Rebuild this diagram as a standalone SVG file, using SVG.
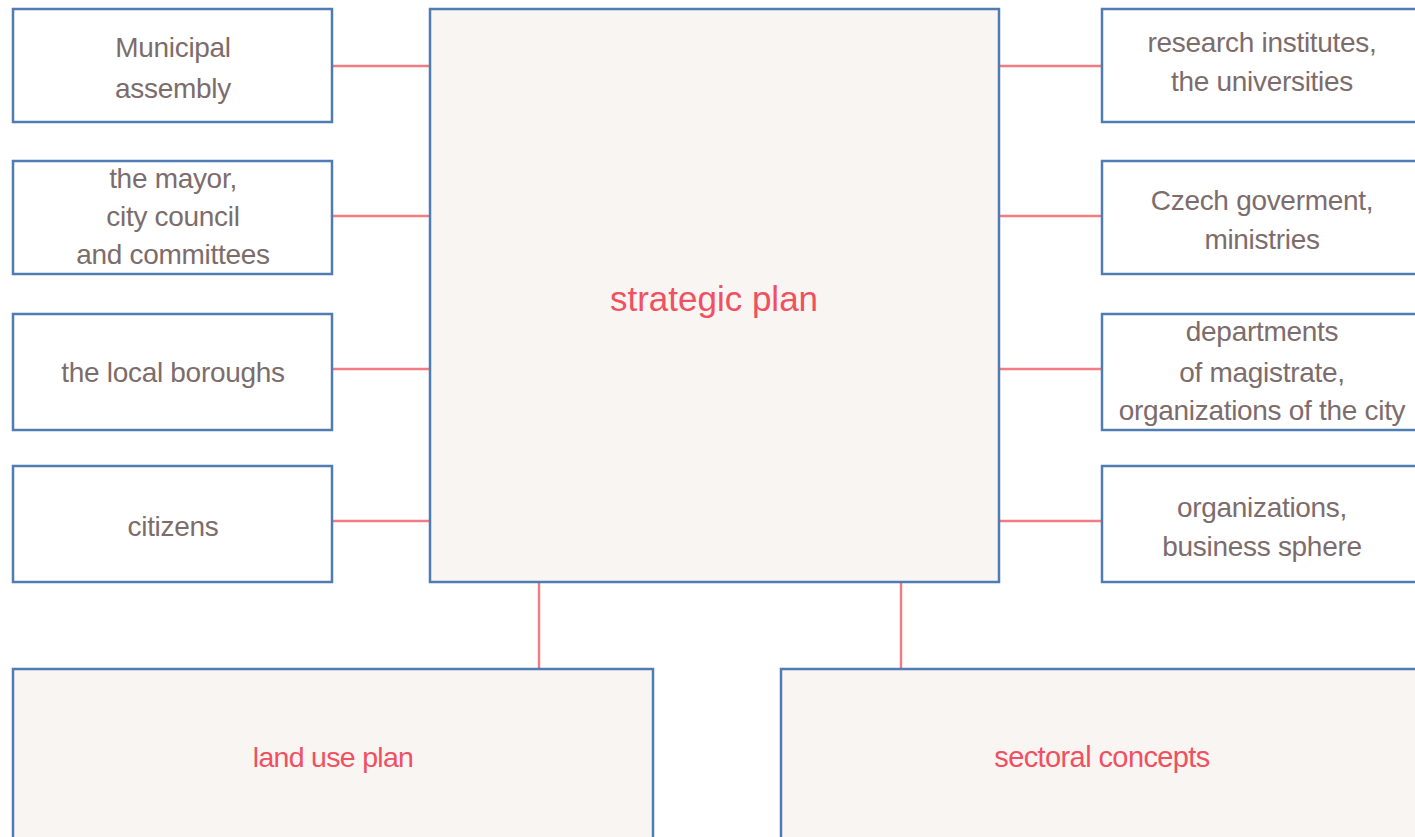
<svg xmlns="http://www.w3.org/2000/svg" width="1415" height="837" viewBox="0 0 1415 837">
<style>
.box{fill:#ffffff;stroke:#4f7cb3;stroke-width:2.5}
.main{fill:#f9f5f3;stroke:#4f7cb3;stroke-width:2.5}
.t{font-family:"Liberation Sans",Arial,sans-serif;font-size:28px;fill:#7d6c6c;text-anchor:middle;dominant-baseline:central;letter-spacing:-0.3px}
.r{font-family:"Liberation Sans",Arial,sans-serif;fill:#f0505f;text-anchor:middle;dominant-baseline:central}
.c{stroke:#f27c82;stroke-width:2.5;fill:none}
</style>
<rect width="1415" height="837" fill="#ffffff"/>
<g id="connectors">
<line class="c" x1="332" y1="66" x2="430" y2="66"/>
<line class="c" x1="332" y1="216" x2="430" y2="216"/>
<line class="c" x1="332" y1="369" x2="430" y2="369"/>
<line class="c" x1="332" y1="521" x2="430" y2="521"/>
<line class="c" x1="999" y1="66" x2="1102" y2="66"/>
<line class="c" x1="999" y1="216" x2="1102" y2="216"/>
<line class="c" x1="999" y1="369" x2="1102" y2="369"/>
<line class="c" x1="999" y1="521" x2="1102" y2="521"/>
<line class="c" x1="539" y1="582" x2="539" y2="669"/>
<line class="c" x1="901" y1="582" x2="901" y2="669"/>
</g>
<g id="strategic-plan">
<rect class="main" x="430" y="9" width="569" height="573"/>
<text class="r" x="714" y="298" font-size="35">strategic plan</text>
</g>
<g id="municipal-assembly">
<rect class="box" x="13" y="9" width="319" height="113"/>
<text class="t" x="173" y="47">Municipal</text>
<text class="t" x="173" y="88">assembly</text>
</g>
<g id="mayor">
<rect class="box" x="13" y="161" width="319" height="113"/>
<text class="t" x="173" y="178">the mayor,</text>
<text class="t" x="173" y="216">city council</text>
<text class="t" x="173" y="254">and committees</text>
</g>
<g id="boroughs">
<rect class="box" x="13" y="314" width="319" height="116"/>
<text class="t" x="173" y="372">the local boroughs</text>
</g>
<g id="citizens">
<rect class="box" x="13" y="466" width="319" height="116"/>
<text class="t" x="173" y="526">citizens</text>
</g>
<g id="research">
<rect class="box" x="1102" y="9" width="330" height="113"/>
<text class="t" x="1262" y="42">research institutes,</text>
<text class="t" x="1262" y="81">the universities</text>
</g>
<g id="government">
<rect class="box" x="1102" y="161" width="330" height="113"/>
<text class="t" x="1262" y="200">Czech goverment,</text>
<text class="t" x="1262" y="239">ministries</text>
</g>
<g id="departments">
<rect class="box" x="1102" y="314" width="330" height="116"/>
<text class="t" x="1262" y="331">departments</text>
<text class="t" x="1262" y="372">of magistrate,</text>
<text class="t" x="1262" y="410">organizations of the city</text>
</g>
<g id="organizations">
<rect class="box" x="1102" y="466" width="330" height="116"/>
<text class="t" x="1262" y="507">organizations,</text>
<text class="t" x="1262" y="546">business sphere</text>
</g>
<g id="land-use-plan">
<rect class="main" x="13" y="669" width="640" height="190"/>
<text class="r" x="333" y="757" font-size="28.5" letter-spacing="-0.7">land use plan</text>
</g>
<g id="sectoral-concepts">
<rect class="main" x="781" y="669" width="650" height="190"/>
<text class="r" x="1102" y="757" font-size="29" letter-spacing="-0.6">sectoral concepts</text>
</g>
</svg>
